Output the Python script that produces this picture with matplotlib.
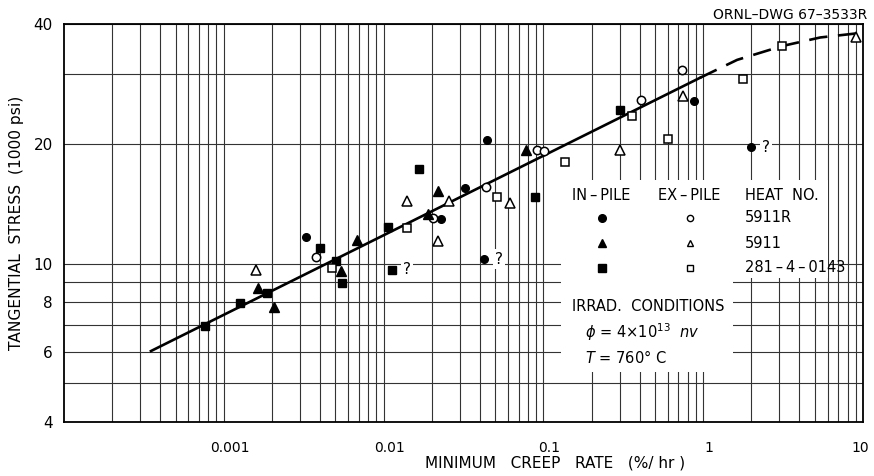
import matplotlib
matplotlib.use('Agg')
import matplotlib.pyplot as plt
from matplotlib.patches import Rectangle
from matplotlib.ticker import FixedLocator, FixedFormatter, NullFormatter
from matplotlib.transforms import ScaledTranslation

# Donnees (vitesse de fluage en %/h, contrainte en 1000 psi)
# Heat 5911R
inpile_5911R_x = [3.27e-3, 0.0229, 0.0323, 0.0443, 0.0425, 0.876, 1.99]
inpile_5911R_y = [11.66, 12.95, 15.5, 20.4, 10.27, 25.6, 19.6]
expile_5911R_x = [3.78e-3, 0.0204, 0.0437, 0.0912, 0.101, 0.408, 0.736]
expile_5911R_y = [10.39, 13.0, 15.6, 19.3, 19.2, 25.8, 30.6]

# Heat 5911
inpile_5911_x = [1.64e-3, 2.06e-3, 5.41e-3, 6.83e-3, 0.019, 0.0219, 0.0778]
inpile_5911_y = [8.69, 7.78, 9.58, 11.47, 13.3, 15.2, 19.3]
expile_5911_x = [1.59e-3, 0.014, 0.0219, 0.0257, 0.0618, 0.303, 0.75, 9.04]
expile_5911_y = [9.64, 14.37, 11.4, 14.37, 14.2, 19.3, 26.4, 37.1]

# Heat 281-4-0143
inpile_281_x = [7.6e-4, 1.26e-3, 1.86e-3, 4.0e-3, 5.04e-3, 5.5e-3, 0.01066, 0.0113, 0.01667, 0.0886, 0.301]
inpile_281_y = [6.97, 7.96, 8.44, 10.95, 10.15, 8.95, 12.36, 9.64, 17.3, 14.7, 24.3]
expile_281_x = [4.75e-3, 0.014, 0.0513, 0.1365, 0.358, 0.602, 1.77, 3.11]
expile_281_y = [9.75, 12.3, 14.7, 18.0, 23.5, 20.6, 29.1, 35.2]

# Points douteux (marques "?")
doubt_x = [0.0113, 0.0425, 1.99]
doubt_y = [9.64, 10.27, 19.6]

# Courbe moyenne : partie continue puis extrapolation en tirets
fit_solid_x = [3.5e-4, 0.955]
fit_solid_y = [6.03, 29.3]
fit_dash_x = [0.955, 1.63, 3.11, 5.4, 9.2]
fit_dash_y = [29.3, 32.5, 35.2, 37.0, 37.9]

x_ticks = [1e-3, 1e-2, 1e-1, 1, 10]
x_labels = ['0.001', '0.01', '0.1', '1', '10']
y_ticks = [4, 6, 8, 10, 20, 40]
y_labels = ['4', '6', '8', '10', '20', '40']
y_minor = [5, 7, 9, 30]

plt.rcParams['font.family'] = ['DejaVu Sans']

fig = plt.figure(figsize=(8.74, 4.76), dpi=100)
ax = fig.add_axes([64 / 874, 54 / 476, 799 / 874, 398 / 476])
ax.set_xscale('log')
ax.set_yscale('log')
ax.set_xlim(1e-4, 10)
ax.set_ylim(4, 40)

# Grille papier log
x_minor = [m * 10.0 ** e for e in range(-4, 1) for m in range(2, 10)]
ax.xaxis.set_major_locator(FixedLocator(x_ticks))
ax.xaxis.set_major_formatter(FixedFormatter(x_labels))
ax.xaxis.set_minor_locator(FixedLocator(x_minor))
ax.xaxis.set_minor_formatter(NullFormatter())
ax.yaxis.set_major_locator(FixedLocator(y_ticks))
ax.yaxis.set_major_formatter(FixedFormatter(y_labels))
ax.yaxis.set_minor_locator(FixedLocator(y_minor))
ax.yaxis.set_minor_formatter(NullFormatter())
ax.grid(True, which='both', color='0.2', lw=0.8)
ax.tick_params(which='both', length=0)
ax.tick_params(axis='x', pad=14, labelsize=10)
ax.tick_params(axis='y', pad=8, labelsize=11)
# les etiquettes x sont un peu decalees vers la droite sur l'original (sauf "10")
xlabs = ax.get_xticklabels()
for lab in xlabs[:-1]:
    lab.set_transform(lab.get_transform() + ScaledTranslation(6 / 100, 0, fig.dpi_scale_trans))
xlabs[-1].set_transform(xlabs[-1].get_transform() + ScaledTranslation(-3 / 100, 0, fig.dpi_scale_trans))
for s in ax.spines.values():
    s.set_linewidth(1.3)

# Zone blanche de la legende (coupe la grille)
ax.add_patch(Rectangle((0.622, 0.126), 0.215, 0.482, transform=ax.transAxes,
                       facecolor='white', edgecolor='none', zorder=1.6))
ax.add_patch(Rectangle((0.836, 0.362), 0.12, 0.246, transform=ax.transAxes,
                       facecolor='white', edgecolor='none', zorder=1.6))

# Courbe
ax.plot(fit_solid_x, fit_solid_y, color='black', lw=1.9, zorder=3)
ax.plot(fit_dash_x, fit_dash_y, color='black', lw=1.9, ls=(0, (7, 4)), zorder=3)

# Points
ax.plot(inpile_5911R_x, inpile_5911R_y, 'o', color='black', ms=5.5, ls='none', zorder=4)
ax.plot(expile_5911R_x, expile_5911R_y, 'o', mfc='white', mec='black', mew=1.1, ms=6, ls='none', zorder=4)
ax.plot(inpile_5911_x, inpile_5911_y, '^', color='black', ms=6.5, ls='none', zorder=4)
ax.plot(expile_5911_x, expile_5911_y, '^', mfc='white', mec='black', mew=1.1, ms=6.5, ls='none', zorder=4)
ax.plot(inpile_281_x, inpile_281_y, 's', color='black', ms=5.5, ls='none', zorder=4)
ax.plot(expile_281_x, expile_281_y, 's', mfc='white', mec='black', mew=1.1, ms=5.5, ls='none', zorder=4)

for qx, qy in zip(doubt_x, doubt_y):
    ax.annotate('?', (qx, qy), xytext=(15, 0), textcoords='offset pixels',
                ha='center', va='center', fontsize=11, zorder=5,
                bbox=dict(facecolor='white', edgecolor='none', pad=1.5))

# Legende faite a la main
tr = ax.transAxes
fs = 10.5
ax.text(0.636, 0.570, 'IN\u2009–\u2009PILE', transform=tr, fontsize=fs, va='center', zorder=5)
ax.text(0.743, 0.570, 'EX\u2009–\u2009PILE', transform=tr, fontsize=fs, va='center', zorder=5)
ax.text(0.852, 0.570, 'HEAT  NO.', transform=tr, fontsize=fs, va='center', zorder=5)
rows_y = [0.5126, 0.4497, 0.387]
heats = ['5911R', '5911', '281\u2009–\u20094\u2009–\u20090143']
shapes = ['o', '^', 's']
for ry, heat, mk in zip(rows_y, heats, shapes):
    ax.plot([0.673], [ry], mk, color='black', ms=5.5, transform=tr, zorder=5)
    ax.plot([0.783], [ry], mk, mfc='white', mec='black', mew=1.0, ms=4.5, transform=tr, zorder=5)
    ax.text(0.852, ry, heat, transform=tr, fontsize=fs, va='center', zorder=5)
ax.text(0.636, 0.289, 'IRRAD.  CONDITIONS', transform=tr, fontsize=fs, va='center', zorder=5)
ax.text(0.652, 0.226, r'$\phi$ = 4×10$^{13}$  $nv$', transform=tr, fontsize=fs, va='center', zorder=5)
ax.text(0.652, 0.163, r'$T$ = 760° C', transform=tr, fontsize=fs, va='center', zorder=5)

fig.text(17 / 874, 0.5 + (476 / 2 - 223) / 476, 'TANGENTIAL  STRESS  (1000 psi)', rotation=90,
         ha='center', va='center', fontsize=11.2)
fig.text(555 / 874, 1 - 463 / 476, 'MINIMUM   CREEP   RATE   (%/ hr )', ha='center', va='center', fontsize=11)
fig.text(867 / 874, 1 - 15 / 476, 'ORNL–DWG 67–3533R', ha='right', va='center', fontsize=10)

fig.savefig('out.png', dpi=100)
